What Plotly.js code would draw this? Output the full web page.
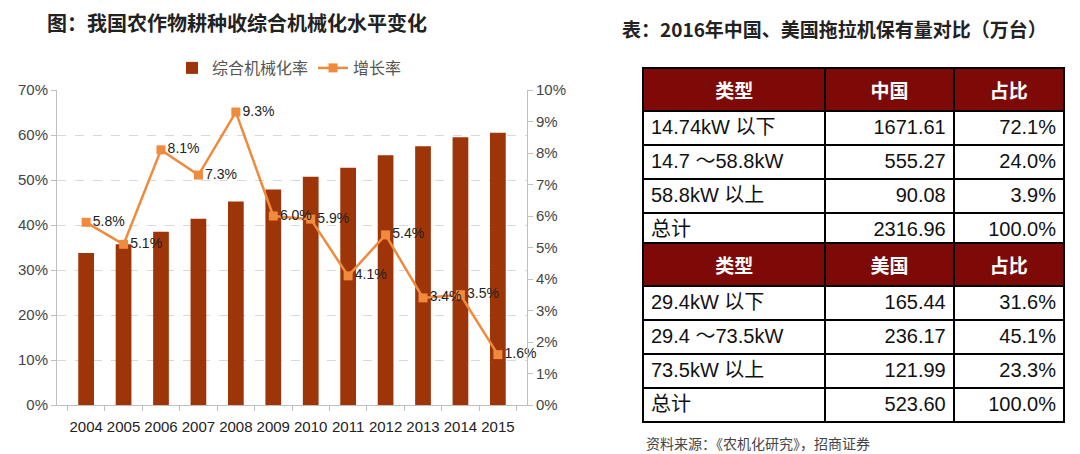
<!DOCTYPE html>
<html><head><meta charset="utf-8">
<script src="https://cdn.plot.ly/plotly-3.0.1.min.js"></script>
<style>html,body{margin:0;padding:0;background:#fff}#chart{width:1080px;height:454px}</style>
</head><body><div id="chart"></div>
<script>
// ---- data ----
const years = ['2004','2005','2006','2007','2008','2009','2010','2011','2012','2013','2014','2015'];
const mechRate = [33.8,35.7,38.5,41.4,45.2,47.9,50.7,52.7,55.5,57.5,59.5,60.5];
const growthRate = [5.8,5.1,8.1,7.3,9.3,6.0,5.9,4.1,5.4,3.4,3.5,1.6];

const cnHeader = ['类型','中国','占比'];
const cnTypes = ['14.74kW 以下','14.7 ～58.8kW','58.8kW 以上','总计'];
const cnValues = [1671.61,555.27,90.08,2316.96];
const cnShares = [72.1,24.0,3.9,100.0];

const usHeader = ['类型','美国','占比'];
const usTypes = ['29.4kW 以下','29.4 ～73.5kW','73.5kW 以上','总计'];
const usValues = [165.44,236.17,121.99,523.60];
const usShares = [31.6,45.1,23.3,100.0];

// ---- styling ----
const W = 1080, H = 454;
const px = v => v / W, py = v => 1 - v / H;
const numFont = 'Liberation Sans, Noto Sans CJK SC, sans-serif';
const cjk = 'Noto Sans CJK SC, sans-serif';

function makeTable(header, types, vals, shares, top, bottom) {
  return {
    type: 'table',
    domain: {x: [px(643), px(1064)], y: [py(bottom), py(top)]},
    columnwidth: [182, 128, 110],
    header: {
      values: header.map(h => '<b>' + h + '</b>'),
      align: 'center',
      height: 38,
      fill: {color: '#7E0A08'},
      line: {color: '#000', width: 2},
      font: {family: cjk, size: 19, color: '#fff'}
    },
    cells: {
      values: [types, vals, shares],
      format: ['', '.2f', '.1f'],
      suffix: ['', '', '%'],
      align: ['left', 'right', 'right'],
      height: 34,
      fill: {color: '#fff'},
      line: {color: '#000', width: 2},
      font: {family: numFont, size: 20, color: '#111'}
    }
  };
}

const traces = [
  {
    type: 'bar', name: '综合机械化率', x: years, y: mechRate,
    marker: {color: '#9E3508'}, yaxis: 'y', xaxis: 'x'
  },
  {
    type: 'scatter', mode: 'lines+markers+text', name: '增长率',
    x: years, y: growthRate, yaxis: 'y2', xaxis: 'x', cliponaxis: false,
    line: {color: '#F08A3C', width: 2.5},
    marker: {symbol: 'square', size: 9, color: '#F08A3C'},
    text: growthRate.map(v => v.toFixed(1) + '%'),
    textposition: 'middle right',
    textfont: {family: numFont, size: 14, color: '#222'}
  },
  makeTable(cnHeader, cnTypes, cnValues, cnShares, 68, 243),
  makeTable(usHeader, usTypes, usValues, usShares, 243, 424)
];

const axisGray = '#BFBFBF';
const tickFont = {family: numFont, size: 15, color: '#444'};

const layout = {
  width: W, height: H,
  margin: {l: 0, r: 0, t: 0, b: 0},
  paper_bgcolor: '#fff', plot_bgcolor: '#fff',
  bargap: 0.58,
  showlegend: true,
  legend: {
    orientation: 'h', x: px(172), y: py(68), xanchor: 'left', yanchor: 'middle',
    font: {family: cjk, size: 16, color: '#555'}, itemwidth: 30, traceorder: 'normal'
  },
  xaxis: {
    domain: [px(57), px(527)], type: 'category', tickangle: 0,
    showline: true, linecolor: axisGray, ticks: 'outside', tickson: 'boundaries',
    ticklen: 5, tickcolor: axisGray, ticklabelstandoff: 8,
    tickfont: {family: numFont, size: 15, color: '#222'},
    showgrid: false, anchor: 'y'
  },
  yaxis: {
    domain: [py(405), py(90)], range: [0, 70], dtick: 10, ticksuffix: '%',
    showline: true, linecolor: axisGray, ticks: 'outside', ticklen: 5, tickcolor: axisGray,
    tickfont: tickFont, showgrid: true, gridcolor: '#D9D9D9', griddash: 'dash', gridwidth: 1,
    zeroline: false, anchor: 'x'
  },
  yaxis2: {
    overlaying: 'y', side: 'right', anchor: 'x', range: [0, 10], dtick: 1, ticksuffix: '%',
    showline: true, linecolor: axisGray, ticks: 'outside', ticklen: 5, tickcolor: axisGray,
    tickfont: tickFont, showgrid: false, zeroline: false
  },
  annotations: [
    {text: '<b>图：我国农作物耕种收综合机械化水平变化</b>', xref: 'paper', yref: 'paper',
     x: px(45), y: py(22), xanchor: 'left', yanchor: 'middle', showarrow: false,
     font: {family: cjk, size: 20, color: '#222'}},
    {text: '<b>表：2016年中国、美国拖拉机保有量对比（万台）</b>', xref: 'paper', yref: 'paper',
     x: px(620), y: py(28), xanchor: 'left', yanchor: 'middle', showarrow: false,
     font: {family: cjk, size: 19, color: '#222'}},
    {text: '资料来源：《农机化研究》，招商证券', xref: 'paper', yref: 'paper',
     x: px(644), y: py(443), xanchor: 'left', yanchor: 'middle', showarrow: false,
     font: {family: cjk, size: 14, color: '#444'}}
  ]
};

Plotly.newPlot('chart', traces, layout, {displayModeBar: false, staticPlot: true});
</script>
</body></html>
